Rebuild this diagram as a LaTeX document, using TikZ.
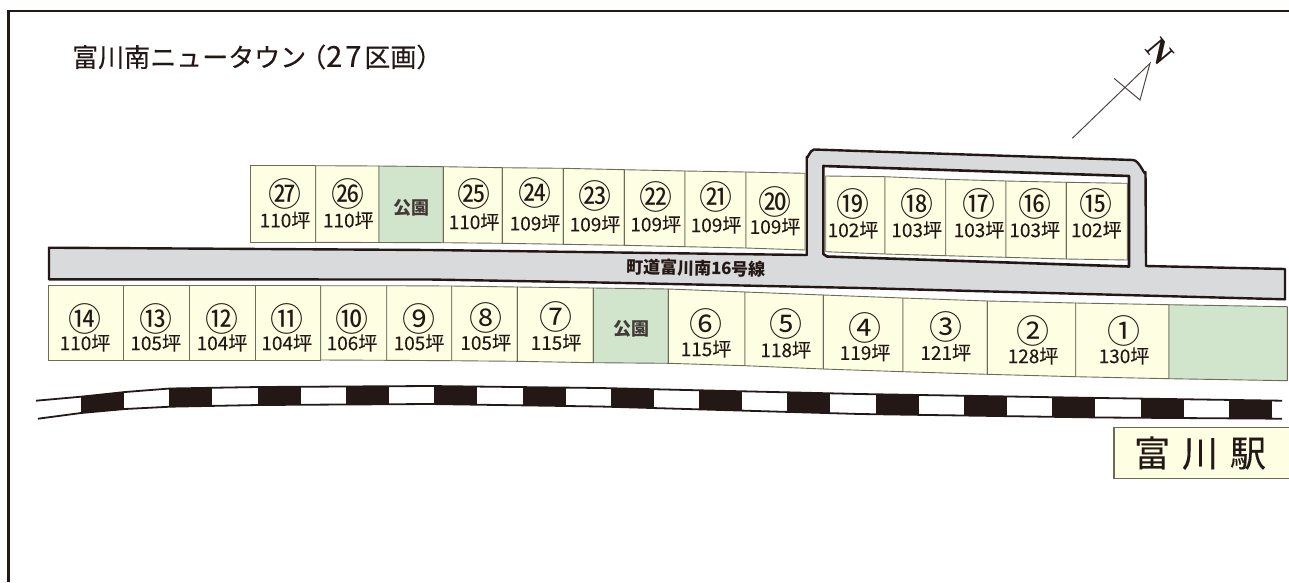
\documentclass[tikz,border=0pt]{standalone}
\usepackage{fontspec}
\setmainfont{Noto Sans CJK JP}
\newfontfamily\nfont{Liberation Serif}
\definecolor{lotyellow}{HTML}{FEFEE3}
\definecolor{parkgreen}{HTML}{D0E5CC}
\definecolor{roadgray}{HTML}{D9DADB}
\definecolor{lotline}{HTML}{6B6B58}
\definecolor{inkdark}{HTML}{231815}
\tikzset{
  lotbox/.style={draw=lotline,line width=0.9pt,line join=round},
  num/.style={inner sep=0pt,text=inkdark,font=\fontsize{33}{33}\selectfont},
  area/.style={inner sep=0pt,text=inkdark,font=\fontsize{19}{19}\selectfont\addfontfeatures{FakeBold=0.15}},
  parklabel/.style={inner sep=0pt,text=inkdark!85,font=\fontsize{18}{18}\selectfont\bfseries},
  heavy/.style={draw=inkdark,line width=2.4pt,line join=round},
}
\newcommand{\lotrow}[1]{%
  \foreach \xc/\tc/\bc/\cc [count=\n, remember=\xc as \xp, remember=\tc as \tp, remember=\bc as \bp] in {#1}{%
    \ifnum\n>1
      \draw[lotbox,fill=\cc] (\xp,\tp) -- (\xc,\tc) -- (\xc,\bc) -- (\xp,\bp) -- cycle;
    \fi
  }%
}
\begin{document}
\begin{tikzpicture}[x=1pt,y=-1pt]
\useasboundingbox (0,0) rectangle (1289,582);
% frame
\draw[draw=inkdark,line width=2.8pt] (8.7,582) -- (8.7,11) -- (1289,11);
% title
\node[inner sep=0pt,anchor=west,text=inkdark,font=\fontsize{26}{26}\selectfont\addfontfeatures{FakeBold=0.3}] (title) at (72,57) {富川南ニュータウン\hspace{-6pt}（{\fontsize{29}{29}\selectfont 2\hspace{3pt}7}\hspace{3pt}区画）};
% north mark
\coordinate (ntail) at (1072.3,138.3);
\coordinate (ntip) at (1150,63.3);
\coordinate (nbarL) at (1114,78.3);
\coordinate (nbarR) at (1140,100);
\draw[draw=inkdark!80,line width=1pt,line join=miter] (ntail) -- (ntip) -- (nbarR) -- (nbarL);
\node[inner sep=0pt,rotate=-50,text=inkdark,font=\nfont\bfseries\fontsize{32}{32}\selectfont] (north) at (1160,51.5) {N};
% road
\path[heavy,fill=roadgray] (49,247.7) -- (430,250) -- (806.7,255) -- (806.7,157)
  to[out=-90,in=180] (814,149.5) -- (1133,160) to[out=0,in=-90] (1145.5,172) -- (1146,266)
  -- (1285,269) -- (1285,299.3) -- (860,288) -- (600,282.5) -- (430,279.5) -- (49,279.3) -- cycle;
\path[heavy,fill=white,line width=2.6pt] (823.3,166) -- (1129,176) -- (1129,266.5) -- (827,256.5) -- (823.3,254) -- cycle;
\node[inner sep=0pt,rotate=-1,text=inkdark,font=\fontsize{17}{17}\selectfont\bfseries] (road) at (696,268) {町道富川南16号線};
% lots
\lotrow{
  48/285.7/360/lotyellow, 123.3/285.7/360/lotyellow, 189/285.7/360/lotyellow, 255/285.7/360/lotyellow,
  320.7/285.7/360/lotyellow, 386.7/285.7/360.3/lotyellow, 451.7/286/360.7/lotyellow, 517.3/287/361.3/lotyellow,
  593.3/288/362.7/lotyellow, 668.3/289/363.3/parkgreen, 745/292/365.7/lotyellow, 823.3/295/369/lotyellow,
  903/298/371.7/lotyellow, 987.3/301/374.3/lotyellow, 1075.7/303/376.7/lotyellow, 1169/304.7/378.7/lotyellow,
  1287.3/306.7/380.7/parkgreen}
\lotrow{
  250/165.7/242.3/lotyellow, 315.7/165.7/242.3/lotyellow, 379/166/242.5/lotyellow, 443.3/166.7/242.7/parkgreen,
  502.3/167.7/243.3/lotyellow, 563.3/168.3/244.3/lotyellow, 624.3/169.7/245.3/lotyellow, 685/171/246.7/lotyellow,
  746/172/248/lotyellow, 805/173.3/250/lotyellow}
\lotrow{
  825.7/176/251.7/lotyellow, 885/176.7/254/lotyellow, 945.7/179.3/255.7/lotyellow, 1006/181/257.3/lotyellow,
  1066.3/182.3/259/lotyellow, 1127.3/183.3/260/lotyellow}
% lot labels
\foreach \g/\a/\xc/\yc/\yt [count=\i] in {
  ①/130/1124/331.7/355, ②/128/1033/331.7/355, ③/121/945.7/328/351.7, ④/119/865/329/351.7,
  ⑤/118/785.7/325/349, ⑥/115/706/325/348, ⑦/115/556/318.3/341.7, ⑧/105/485.7/319/341.7,
  ⑨/105/419/320/342, ⑩/106/352/320/342, ⑪/104/286.7/320/342, ⑫/104/222/320/342,
  ⑬/105/155.7/320/342, ⑭/110/85/320/342, ⑮/102/1096.3/205/229, ⑯/103/1034.7/205/229,
  ⑰/103/979/205/229, ⑱/103/916.7/205/229, ⑲/102/853/205/229, ⑳/109/775/203.3/225.7,
  ㉑/109/716/198/224, ㉒/109/655.7/198.3/223.3, ㉓/109/595/197.3/223.3, ㉔/109/535/194/222.3,
  ㉕/110/474/195/221, ㉖/110/348.3/195/219.3, ㉗/110/285/195/219.3}{
  \node[num] (c\i) at (\xc,\yc-1) {\g};
  \node[area] (a\i) at (\xc,\yt+1) {\a 坪};
}
\node[parklabel] (parkA) at (411,208) {公園};
\node[parklabel] (parkB) at (631,329) {公園};
% railway
\def\railtop{(36,400.7) (81,396.7) (125,392) (170,388.5) (258,387) (430,386) (600,388) (860,394) (1100,398) (1282,400.7)}
\def\railbot{(38,418.7) (81,413) (125,409) (170,406.7) (258,405) (430,404) (600,406.5) (860,414) (1100,417.5) (1282,418.7)}
\begin{scope}
  \clip plot coordinates {(36,400.7) (81,396.7) (125,392) (170,388.5) (258,387) (430,386) (600,388) (860,394) (1100,398) (1282,400.7)}
    -- plot coordinates {(1282,418.7) (1100,417.5) (860,414) (600,406.5) (430,404) (258,405) (170,406.7) (125,409) (81,413) (38,418.7)} -- cycle;
  \foreach \k in {0,...,13}{
    \fill[inkdark] ({81+88.3*\k},380) rectangle ({81+88.3*\k+43},425);
  }
\end{scope}
\draw[draw=inkdark,line width=1.8pt] plot coordinates \railtop;
\draw[draw=inkdark,line width=1.8pt] plot coordinates \railbot;
% station
\path[fill=lotyellow,draw=lotline,line width=1.2pt] (1289.5,427.3) -- (1114,427.3) -- (1114,478.3) -- (1289.5,478.3);
\node[inner sep=0pt,text=inkdark,font=\fontsize{36}{36}\selectfont\addfontfeatures{FakeBold=0.3}] (station) at (1200,453) {富\hspace{12pt}川\hspace{12pt}駅};
\end{tikzpicture}
\end{document}
